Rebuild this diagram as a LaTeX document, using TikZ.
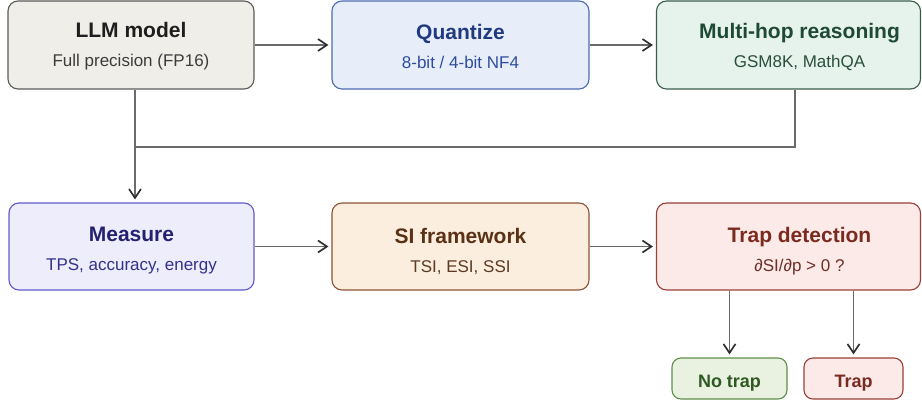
\documentclass[tikz,border=0pt]{standalone}
\usepackage{fontspec}
\setmainfont{Liberation Sans}
\usepackage{tikz}
\usetikzlibrary{positioning}
\usetikzlibrary{arrows.meta}

\definecolor{linegray}{HTML}{6A6A6A}
\definecolor{tipgray}{HTML}{2E2E2E}
\definecolor{llmfill}{HTML}{EFEEE9}
\definecolor{llmdraw}{HTML}{5A5A58}
\definecolor{llmtitle}{HTML}{1E1E1E}
\definecolor{llmsub}{HTML}{3C3C3C}
\definecolor{quantfill}{HTML}{E7EEF9}
\definecolor{quantdraw}{HTML}{4C6BB0}
\definecolor{quanttitle}{HTML}{1F3A80}
\definecolor{quantsub}{HTML}{2E4C9E}
\definecolor{hopfill}{HTML}{E6F2EC}
\definecolor{hopdraw}{HTML}{3B5E4B}
\definecolor{hoptitle}{HTML}{1E4A35}
\definecolor{hopsub}{HTML}{2A4F3C}
\definecolor{measfill}{HTML}{EDEDFC}
\definecolor{measdraw}{HTML}{5F5BCB}
\definecolor{meastitle}{HTML}{242270}
\definecolor{meassub}{HTML}{33318A}
\definecolor{sifill}{HTML}{FBEEDF}
\definecolor{sidraw}{HTML}{8E5233}
\definecolor{sititle}{HTML}{5B3116}
\definecolor{sisub}{HTML}{5E3A22}
\definecolor{trapfill}{HTML}{FBEAE8}
\definecolor{trapdraw}{HTML}{9B3F38}
\definecolor{traptitle}{HTML}{7B2A20}
\definecolor{trapsub}{HTML}{6E2E28}
\definecolor{nofill}{HTML}{E9F2E1}
\definecolor{nodraw}{HTML}{5E8D4A}
\definecolor{notext}{HTML}{2E5A22}

\newcommand{\boxtitle}[2]{{\color{#1}\fontsize{21}{29}\selectfont\bfseries #2}}

\begin{document}
\begin{tikzpicture}[x=1pt,y=-1pt,
	box/.style={draw, rounded corners=10pt, line width=1.1pt, inner sep=0pt, minimum height=88pt},
	boxtext/.style={align=center, inner sep=0pt, font=\fontsize{17}{29}\selectfont},
	smallbox/.style={draw, rounded corners=9pt, line width=1.1pt, minimum width=#1, minimum height=41pt, text height=17pt, text depth=0pt, font=\fontsize{18}{22}\selectfont\bfseries},
	flow/.style={draw=linegray, line width=1.8pt, shorten >=3pt, -{Straight Barb[length=9pt,width=12pt,line width=1.7pt,color=tipgray]}},
	link/.style={draw=linegray, line width=1.8pt}]

	\clip (0,0) rectangle (922,404);

	% Top row %
	\node [box, fill=llmfill, draw=llmdraw, minimum width=246pt] (llm) at (131,45) {};
	\node [boxtext, text=llmsub] (llmtext) at ([yshift=-1.5pt]llm.center) {\boxtitle{llmtitle}{LLM model}\\Full precision (FP16)};
	\node [box, fill=quantfill, draw=quantdraw, minimum width=257pt] (quant) at (460.5,45) {};
	\node [boxtext, text=quantsub] (quanttext) at ([yshift=-1.5pt]quant.center) {\boxtitle{quanttitle}{Quantize}\\8-bit / 4-bit NF4};
	\node [box, fill=hopfill, draw=hopdraw, minimum width=264pt] (hop) at (788.5,45) {};
	\node [boxtext, text=hopsub] (hoptext) at ([xshift=11pt,yshift=-1.5pt]hop.center) {\boxtitle{hoptitle}{Multi-hop reasoning}\\GSM8K, MathQA};
	\draw [flow] (llm) -- (quant);
	\draw [flow] (quant) -- (hop);

	% Bottom row %
	\node [box, fill=measfill, draw=measdraw, minimum width=245pt, minimum height=87pt] (measure) at (131.5,246.5) {};
	\node [boxtext, text=meassub] (measuretext) at ([yshift=-4.5pt]measure.center) {\boxtitle{meastitle}{Measure}\\TPS, accuracy, energy};
	\node [box, fill=sifill, draw=sidraw, minimum width=257pt, minimum height=87pt] (si) at (460.5,246.5) {};
	\node [boxtext, text=sisub] (sitext) at ([yshift=-4.5pt]si.center) {\boxtitle{sititle}{SI framework}\\TSI, ESI, SSI};
	\node [box, fill=trapfill, draw=trapdraw, minimum width=264pt, minimum height=87pt] (trapdet) at (788.5,246.5) {};
	\node [boxtext, text=trapsub] (trapdettext) at ([xshift=11pt,yshift=-4.5pt]trapdet.center) {\boxtitle{traptitle}{Trap detection}\\∂SI/∂p > 0 ?};
	\draw [flow] (measure) -- (si);
	\draw [flow] (si) -- (trapdet);

	% Merge %
	\coordinate (merge) at (135,147);
	\draw [link] ([xshift=6.5pt]hop.south) |- (merge);
	\draw [link] (llm.south -| merge) -- (merge);
	\draw [flow] (merge) -- (measure.north -| merge);

	% Outcomes %
	\node [smallbox=115pt, fill=nofill, draw=nodraw, text=notext] (notrap) at (729.5,378.5) {No trap};
	\node [smallbox=99pt, fill=trapfill, draw=trapdraw, text=traptitle] (trap) at (853.5,378.5) {Trap};
	\draw [flow] (trapdet.south -| notrap) -- (notrap);
	\draw [flow] (trapdet.south -| trap) -- (trap);
\end{tikzpicture}
\end{document}
